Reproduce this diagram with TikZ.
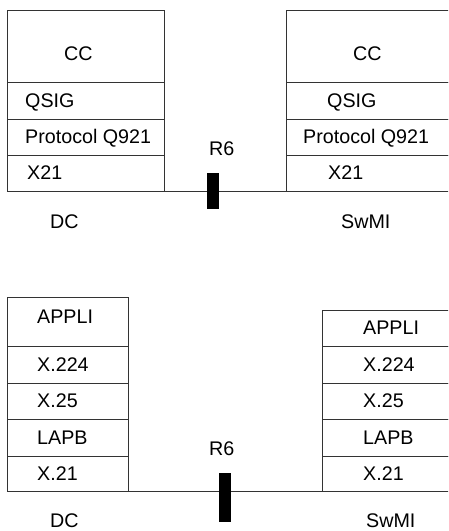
\documentclass[tikz,border=0pt]{standalone}
\usepackage{fontspec}
\setmainfont{Liberation Sans}
\usetikzlibrary{positioning}
\definecolor{edge}{HTML}{333333}
\tikzset{
  layer/.style={draw=edge, line width=0.9pt, rectangle, inner sep=0pt, outer sep=0pt, anchor=north west},
  lbl/.style={inner sep=0pt, anchor=base west, font=\fontsize{19.7}{23}\selectfont},
  plug/.style={fill=black, inner sep=0pt, outer sep=0pt, minimum width=12},
  wire/.style={draw=edge, line width=0.9pt},
}

\begin{document}
\begin{tikzpicture}[x=1pt, y=-1pt]

% Frame
\useasboundingbox (0,0) rectangle (448,531);
\clip (0,0) rectangle (448,531);

% Top: DC stack
\node[layer, minimum width=157, minimum height=72] (dcCC) at (7,10) {};
\node[layer, minimum width=157, minimum height=37, below=0pt of dcCC] (dcQSIG) {};
\node[layer, minimum width=157, minimum height=36, below=0pt of dcQSIG] (dcQ921) {};
\node[layer, minimum width=157, minimum height=36, below=0pt of dcQ921] (dcX21) {};
\node[lbl] (dcCCt) at (64,60) {CC};
\node[lbl] (dcQSIGt) at (25,107) {QSIG};
\node[lbl] (dcQ921t) at (25,143) {Protocol Q921};
\node[lbl] (dcX21t) at (27,179) {X21};
\node[lbl] (dcName) at (50,228) {DC};

% Top: SwMI stack (runs off the right edge)
\node[layer, minimum width=184, minimum height=72] (swCC) at (286,10) {};
\node[layer, minimum width=184, minimum height=37, below=0pt of swCC] (swQSIG) {};
\node[layer, minimum width=184, minimum height=36, below=0pt of swQSIG] (swQ921) {};
\node[layer, minimum width=184, minimum height=36, below=0pt of swQ921] (swX21) {};
\node[lbl] (swCCt) at (353,60) {CC};
\node[lbl] (swQSIGt) at (327,107) {QSIG};
\node[lbl] (swQ921t) at (303,143) {Protocol Q921};
\node[lbl] (swX21t) at (328,179) {X21};
\node[lbl] (swName) at (341,228) {SwMI};

% Top: R6 link
\draw[wire] (dcX21.south east) -- (swX21.south west);
\node[plug, minimum height=36] (barA) at (213,191) {};
\node[lbl] (rA) at (209,155) {R6};

% Bottom: DC stack
\node[layer, minimum width=121, minimum height=49] (dcApp) at (7,297) {};
\node[layer, minimum width=121, minimum height=37, below=0pt of dcApp] (dcXtt) {};
\node[layer, minimum width=121, minimum height=36, below=0pt of dcXtt] (dcXtf) {};
\node[layer, minimum width=121, minimum height=37, below=0pt of dcXtf] (dcLapb) {};
\node[layer, minimum width=121, minimum height=35, below=0pt of dcLapb] (dcXto) {};
\node[lbl] (dcAppt) at (37,323) {APPLI};
\node[lbl] (dcXttt) at (37,371) {X.224};
\node[lbl] (dcXtft) at (37,407) {X.25};
\node[lbl] (dcLapbt) at (37,444) {LAPB};
\node[lbl] (dcXtot) at (37,480) {X.21};
\node[lbl] (dcNameb) at (50,527) {DC};

% Bottom: SwMI stack (runs off the right edge)
\node[layer, minimum width=148, minimum height=36] (swApp) at (322,310) {};
\node[layer, minimum width=148, minimum height=37, below=0pt of swApp] (swXtt) {};
\node[layer, minimum width=148, minimum height=36, below=0pt of swXtt] (swXtf) {};
\node[layer, minimum width=148, minimum height=37, below=0pt of swXtf] (swLapb) {};
\node[layer, minimum width=148, minimum height=35, below=0pt of swLapb] (swXto) {};
\node[lbl] (swAppt) at (363,334) {APPLI};
\node[lbl] (swXttt) at (363,371) {X.224};
\node[lbl] (swXtft) at (363,407) {X.25};
\node[lbl] (swLapbt) at (363,444) {LAPB};
\node[lbl] (swXtot) at (363,480) {X.21};
\node[lbl] (swNameb) at (366,527) {SwMI};

% Bottom: R6 link
\draw[wire] (dcXto.south east) -- (swXto.south west);
\node[plug, minimum height=49] (barB) at (225,497.5) {};
\node[lbl] (rB) at (209,455) {R6};

\end{tikzpicture}
\end{document}
